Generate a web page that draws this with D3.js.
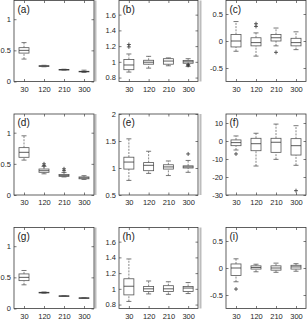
<!DOCTYPE html>
<html>
<head>
<meta charset="utf-8">
<script src="https://cdn.jsdelivr.net/npm/d3@7"></script>
<style>
  body { margin: 0; background: #fff; }
  svg { display: block; font-family: "Liberation Sans", Arial, sans-serif; }
  .tick text { fill: #262626; font-size: 7.5px; }
  .tick line { stroke: #444; stroke-width: 0.7; }
</style>
</head>
<body>
<div id="chart"></div>
<script>
// time windows on the x axis
const times = ["30", "120", "210", "300"];
const letters = ["(a)", "(b)", "(c)", "(d)", "(e)", "(f)", "(g)", "(h)", "(i)"];

// y ranges and ticks for every panel
const yDomains = [
  [0, 1.3], [0.75, 1.78], [-0.75, 0.75],
  [0, 1.3], [0.5, 2], [-30, 15],
  [0, 1.3], [0.75, 1.78], [-0.75, 0.75]
];
const yTicks = [
  [0, 0.5, 1], [0.8, 1, 1.2, 1.4, 1.6], [-0.5, 0, 0.5],
  [0, 0.5, 1], [0.5, 1, 1.5, 2], [-30, -20, -10, 0, 10],
  [0, 0.5, 1], [0.8, 1, 1.2, 1.4, 1.6], [-0.5, 0, 0.5]
];

// box stats: [lower whisker, q1, median, q3, upper whisker]
const boxesA = [[0.36, 0.456, 0.5, 0.543, 0.624], [0.236, 0.243, 0.248, 0.253, 0.26], [0.183, 0.187, 0.19, 0.194, 0.197], [0.145, 0.156, 0.16, 0.164, 0.182]];
const boxesB = [[0.87, 0.90, 0.96, 1.03, 1.10], [0.92, 0.97, 0.995, 1.02, 1.07], [0.95, 0.97, 1.01, 1.04, 1.05], [0.94, 0.982, 1.0, 1.017, 1.04]];
const boxesC = [[-0.19, -0.11, 0, 0.12, 0.36], [-0.28, -0.09, -0.03, 0.06, 0.15], [-0.09, 0.0, 0.06, 0.12, 0.24], [-0.16, -0.09, -0.03, 0.05, 0.17]];
const boxesD = [[0.56, 0.605, 0.685, 0.76, 0.95], [0.34, 0.364, 0.39, 0.417, 0.46], [0.29, 0.30, 0.31, 0.33, 0.36], [0.25, 0.26, 0.275, 0.29, 0.31]];
const boxesE = [[0.77, 0.98, 1.11, 1.20, 1.54], [0.90, 0.95, 1.05, 1.10, 1.31], [0.86, 0.98, 1.02, 1.06, 1.13], [0.92, 1.0, 1.02, 1.04, 1.14]];
const boxesF = [[-5, -2.6, -0.9, 0.6, 2.8], [-13.9, -5.4, -1.5, 1.5, 4.3], [-10.2, -6.3, -0.7, 1.5, 9.4], [-13.5, -7.8, -2.6, 1.3, 8.5]];
const boxesG = [[0.38, 0.447, 0.5, 0.555, 0.61], [0.245, 0.25, 0.255, 0.26, 0.265], [0.193, 0.197, 0.2, 0.203, 0.206], [0.162, 0.165, 0.168, 0.171, 0.174]];
const boxesH = [[0.84, 0.923, 1.033, 1.128, 1.38], [0.935, 0.965, 1.0, 1.03, 1.10], [0.93, 0.965, 1.0, 1.04, 1.09], [0.94, 0.965, 1.01, 1.03, 1.08]];
const boxesI = [[-0.255, -0.14, 0, 0.075, 0.17], [-0.07, -0.02, 0.01, 0.04, 0.07], [-0.08, -0.04, 0.0, 0.04, 0.09], [-0.06, -0.02, 0.02, 0.05, 0.08]];

// outliers per time window
const outA = [[], [], [], []];
const outB = [[1.19, 1.22], [], [], [0.955, 0.965]];
const outC = [[], [0.27, 0.32], [-0.21], []];
const outD = [[], [0.47, 0.5], [0.39, 0.42], []];
const outE = [[], [], [], [1.26]];
const outF = [[-7.2], [], [], [-27.6]];
const outG = [[], [], [], []];
const outH = [[], [], [], []];
const outI = [[-0.39], [], [], []];

const allBoxes = [boxesA, boxesB, boxesC, boxesD, boxesE, boxesF, boxesG, boxesH, boxesI];
const allOut = [outA, outB, outC, outD, outE, outF, outG, outH, outI];

const width = 308;
const height = 320;
const colLeft = [14, 119, 226];
const colWidth = [80, 79, 80];
const rowTop = [0.5, 114, 227.5];
const panelH = 81;

const svg = d3.select("#chart").append("svg")
  .attr("width", width)
  .attr("height", height);

// faint gray strips seen in the figure
[95.5, 200.5].forEach((gx) => {
  rowTop.forEach((t) => {
    svg.append("line")
      .attr("x1", gx).attr("x2", gx)
      .attr("y1", t).attr("y2", t + panelH)
      .attr("stroke", "#bdbdbd").attr("stroke-width", 2);
  });
});

letters.forEach((letter, i) => {
  const col = i % 3;
  const row = Math.floor(i / 3);
  const left = colLeft[col];
  const right = left + colWidth[col];
  const top = rowTop[row];
  const bottom = top + panelH;

  const x = d3.scalePoint().domain(times).range([left, right]).padding(0.5);
  const y = d3.scaleLinear().domain(yDomains[i]).range([bottom, top]);

  const g = svg.append("g");

  // axes with inward ticks
  const fmt = (d) => String(d);
  g.append("g").attr("transform", `translate(${left},0)`)
    .call(d3.axisLeft(y).tickValues(yTicks[i]).tickFormat(fmt).tickSize(-2.5).tickPadding(3))
    .call((a) => a.select(".domain").remove());
  g.append("g").attr("transform", `translate(${right},0)`)
    .call(d3.axisRight(y).tickValues(yTicks[i]).tickFormat("").tickSize(-2.5))
    .call((a) => a.select(".domain").remove());
  g.append("g").attr("transform", `translate(0,${bottom})`)
    .call(d3.axisBottom(x).tickSize(-2.5).tickPadding(5))
    .call((a) => a.select(".domain").remove());
  g.append("g").attr("transform", `translate(0,${top})`)
    .call(d3.axisTop(x).tickFormat("").tickSize(-2.5))
    .call((a) => a.select(".domain").remove());

  g.append("rect")
    .attr("x", left).attr("y", top)
    .attr("width", right - left).attr("height", panelH)
    .attr("fill", "none").attr("stroke", "#3a3a3a").attr("stroke-width", 0.8);

  g.append("text")
    .attr("x", left + 3.5).attr("y", top + 12)
    .attr("font-size", 10).attr("fill", "#1a1a1a")
    .text(letter);

  const bw = 10;
  const cap = 5;
  const stroke = "#555";
  const boxes = g.selectAll(".box").data(allBoxes[i].map((s, k) => ({ t: times[k], s })))
    .join("g").attr("class", "box");

  // whiskers
  boxes.append("line")
    .attr("x1", (d) => x(d.t)).attr("x2", (d) => x(d.t))
    .attr("y1", (d) => y(d.s[3])).attr("y2", (d) => y(d.s[4]))
    .attr("stroke", stroke).attr("stroke-width", 0.7).attr("stroke-dasharray", "2,1.2");
  boxes.append("line")
    .attr("x1", (d) => x(d.t)).attr("x2", (d) => x(d.t))
    .attr("y1", (d) => y(d.s[0])).attr("y2", (d) => y(d.s[1]))
    .attr("stroke", stroke).attr("stroke-width", 0.7).attr("stroke-dasharray", "2,1.2");
  [0, 4].forEach((k) => {
    boxes.append("line")
      .attr("x1", (d) => x(d.t) - cap / 2).attr("x2", (d) => x(d.t) + cap / 2)
      .attr("y1", (d) => y(d.s[k])).attr("y2", (d) => y(d.s[k]))
      .attr("stroke", stroke).attr("stroke-width", 0.8);
  });
  boxes.append("rect")
    .attr("x", (d) => x(d.t) - bw / 2)
    .attr("y", (d) => y(d.s[3]))
    .attr("width", bw)
    .attr("height", (d) => Math.max(0.6, y(d.s[1]) - y(d.s[3])))
    .attr("fill", "#fff").attr("stroke", stroke).attr("stroke-width", 0.8);
  boxes.append("line")
    .attr("x1", (d) => x(d.t) - bw / 2).attr("x2", (d) => x(d.t) + bw / 2)
    .attr("y1", (d) => y(d.s[2])).attr("y2", (d) => y(d.s[2]))
    .attr("stroke", "#333").attr("stroke-width", 0.8);

  // outliers as plus signs
  const pts = allOut[i].flatMap((vals, k) => vals.map((v) => ({ t: times[k], v })));
  g.selectAll(".out").data(pts).join("path")
    .attr("class", "out")
    .attr("d", (d) => {
      const cx = x(d.t), cy = y(d.v);
      return `M${cx - 2},${cy}H${cx + 2}M${cx},${cy - 2}V${cy + 2}`;
    })
    .attr("stroke", "#333").attr("stroke-width", 0.8);
});
</script>
</body>
</html>
